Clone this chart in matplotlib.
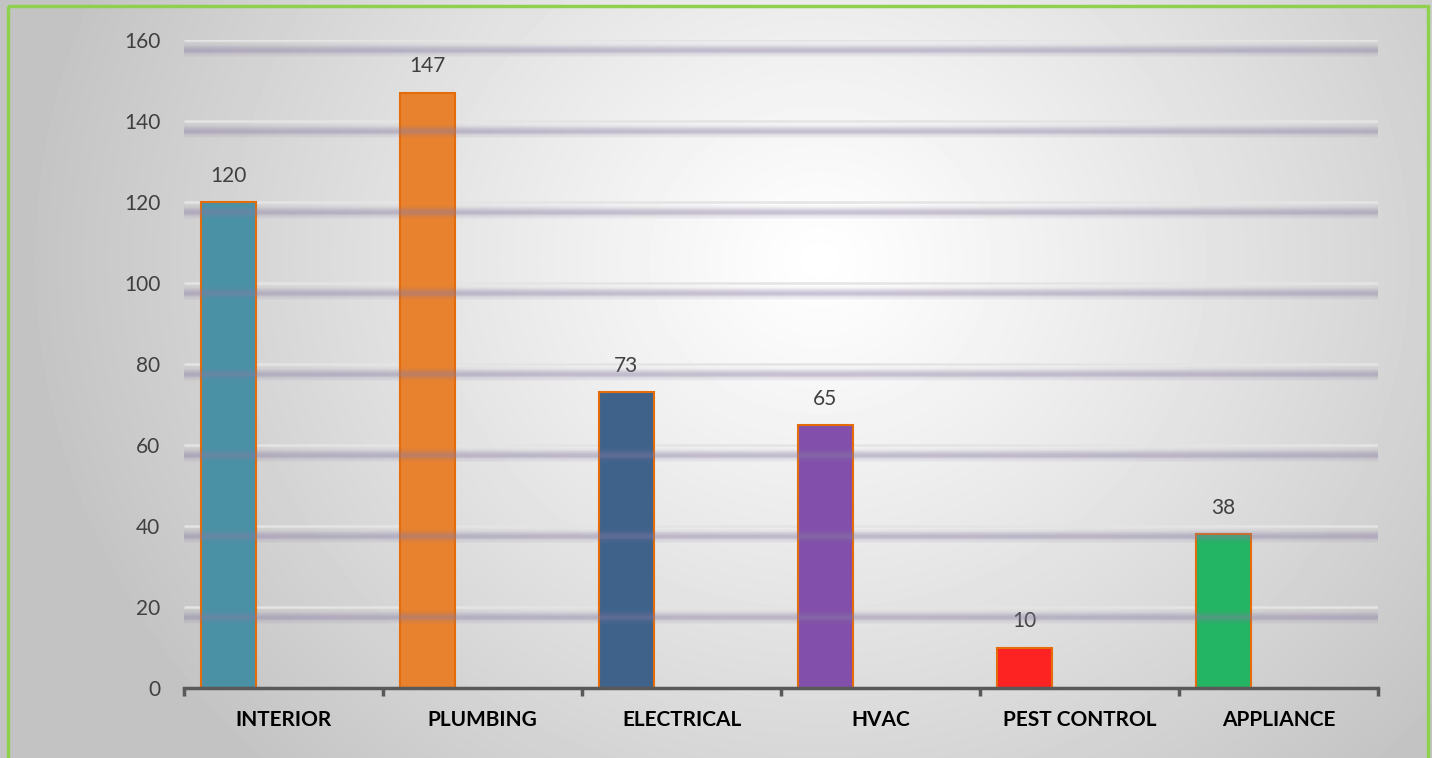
import numpy as np
import matplotlib.pyplot as plt
import matplotlib.transforms as mtransforms
from matplotlib.patches import Rectangle

categories = ['INTERIOR', 'PLUMBING', 'ELECTRICAL', 'HVAC', 'PEST CONTROL', 'APPLIANCE']
values = [120, 147, 73, 65, 10, 38]
colors = ['#4a91a5', '#e8822e', '#3f628b', '#8250ab', '#fd2323', '#23b564']
yticks = [0, 20, 40, 60, 80, 100, 120, 140, 160]

plt.rcParams['font.family'] = ['Lato', 'DejaVu Sans']

W, H = 1432, 758
fig = plt.figure(figsize=(W / 100, H / 100), dpi=100)

# radial grey background
bg = fig.add_axes([0, 0, 1, 1])
yy, xx = np.mgrid[0:H, 0:W]
r = np.sqrt(((xx - 820) / 1.0) ** 2 + ((yy - 260) / 0.9) ** 2)
shade = 255 - 60 * np.clip(r / 800, 0, 1) ** 1.1
bg.imshow(shade, cmap='gray', vmin=0, vmax=255, extent=[0, W, H, 0], aspect='auto')
bg.set_xlim(0, W)
bg.set_ylim(H, 0)
bg.axis('off')
bg.add_patch(Rectangle((8, 6), 1420, 800, fill=False, edgecolor='#8fd14f', linewidth=2.5))

ax = fig.add_axes([184 / W, 70 / H, 1194 / W, 648 / H])
ax.patch.set_alpha(0)
ax.set_xlim(-0.5, len(categories) - 0.5)
ax.set_ylim(0, 160)

x = np.arange(len(categories))
bw = 0.277
ax.bar(x - bw, values, width=bw, color=colors, edgecolor='#e46c0a', linewidth=1.5, zorder=3)

# gridlines: thin light line with a blurry shadow beneath
shadow = mtransforms.offset_copy(ax.transData, fig=fig, x=0, y=-7.5, units='points')
for t in yticks[1:]:
    ax.plot([-0.5, 5.5], [t, t], color='#e4e4e4', lw=1.8, zorder=1, solid_capstyle='butt')
    for lw, a in [(10, 0.05), (8, 0.07), (6, 0.1), (4, 0.14), (2.5, 0.16)]:
        ax.plot([-0.5, 5.5], [t, t], color='#8a7ea4', lw=lw, alpha=a, zorder=4,
                transform=shadow, solid_capstyle='round')

for xi, v in zip(x - bw, values):
    ax.text(xi, v + 4.0, str(v), ha='center', va='bottom', fontsize=15, color='#404040')

for s in ['top', 'right', 'left']:
    ax.spines[s].set_visible(False)
ax.spines['bottom'].set_color('#595959')
ax.spines['bottom'].set_linewidth(2.5)
ax.spines['bottom'].set_zorder(5)

ax.set_xticks(np.arange(-0.5, len(categories)), labels=[])
ax.tick_params(axis='x', which='major', length=6, width=2.5, color='#595959')
ax.set_xticks(x, labels=categories, minor=True)
ax.tick_params(axis='x', which='minor', length=0, pad=16, labelsize=15)
for lab in ax.get_xticklabels(minor=True):
    lab.set_fontweight('bold')
    lab.set_color('black')

ax.set_yticks(yticks)
ax.tick_params(axis='y', length=0, pad=17, labelsize=15, labelcolor='#404040')

fig.savefig('out.png', dpi=100)
